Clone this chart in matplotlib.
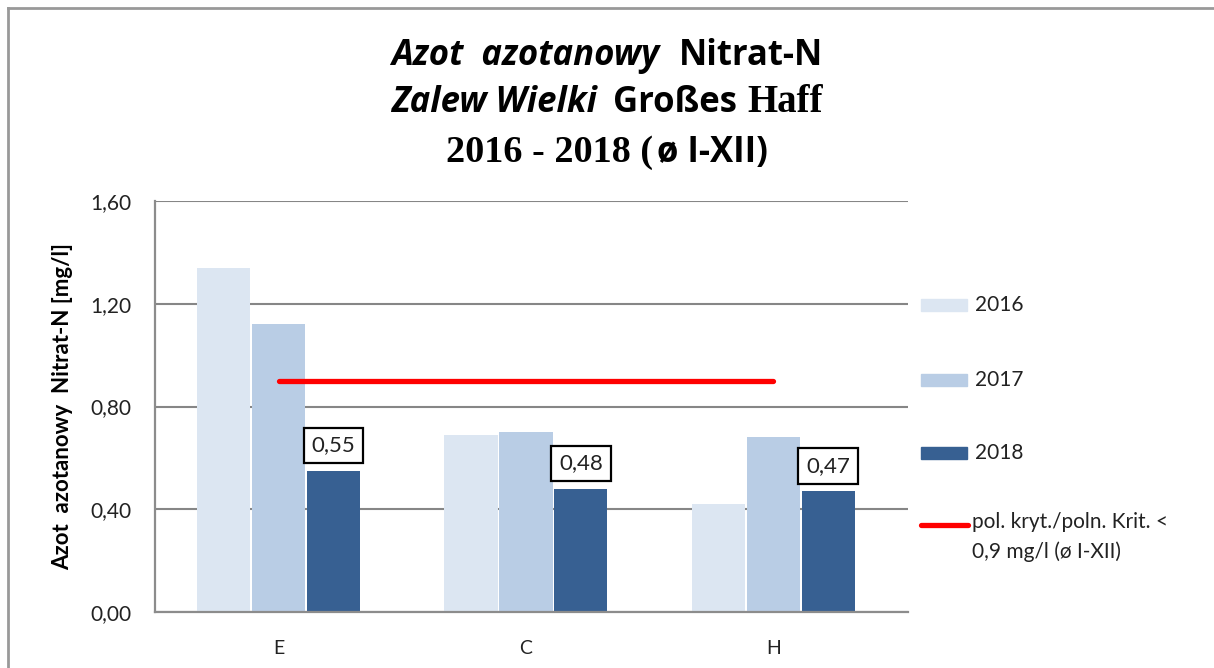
import matplotlib
matplotlib.use("Agg")
import matplotlib.pyplot as plt
from matplotlib.lines import Line2D
from matplotlib.patches import Rectangle
import numpy as np

stations = ["E", "C", "H"]
years = ["2016", "2017", "2018"]
values = {
    "2016": [1.34, 0.69, 0.42],
    "2017": [1.12, 0.70, 0.68],
    "2018": [0.55, 0.48, 0.47],
}
limit_value = 0.9
limit_label = "pol. kryt./poln. Krit. <\n0,9 mg/l (ø I-XII)"
yticks = [0.0, 0.4, 0.8, 1.2, 1.6]

colors = {"2016": "#DCE6F2", "2017": "#B9CDE5", "2018": "#376092"}
SANS = "Lato"
TSANS = "Open Sans"
SERIF = "Liberation Serif"

W, H = 1214, 668
fig = plt.figure(figsize=(W / 100, H / 100), dpi=100)
fig.patch.set_facecolor("white")

# axes box in pixel coords: x 155..908, y 201..612
ax = fig.add_axes([155 / W, 1 - 612 / H, (908 - 155) / W, (612 - 201) / H])

x = np.arange(len(stations))
step = 0.222
width = 0.215
for i, yr in enumerate(years):
    ax.bar(x + (i - 1) * step, values[yr], width, color=colors[yr], zorder=2)

ax.plot(x, [limit_value] * len(x), color="#FF0000", lw=3.8,
        solid_capstyle="round", zorder=3)

# data labels for 2018
for xi, v in zip(x, values["2018"]):
    ax.annotate(f"{v:.2f}".replace(".", ","), (xi + step, v),
                xytext=(0, 11), textcoords="offset points",
                ha="center", va="bottom", fontsize=16, family=SANS, color="#222222",
                bbox=dict(boxstyle="square,pad=0.35", fc="white", ec="black", lw=1.6),
                zorder=4)

ax.set_xlim(-0.5, 2.545)
ax.set_ylim(0, 1.6)
ax.set_yticks(yticks)
ax.set_yticklabels([f"{t:.2f}".replace(".", ",") for t in yticks],
                   fontsize=15, family=SANS, color="#222222")
ax.set_xticks(x)
ax.set_xticklabels(stations, fontsize=14, family=SANS, color="#222222")
ax.tick_params(axis="both", length=0)
ax.tick_params(axis="y", pad=17)
ax.tick_params(axis="x", pad=20)
ax.yaxis.grid(True, color="#868686", lw=1.5, zorder=0)
ax.set_axisbelow(True)
for s in ["top", "right"]:
    ax.spines[s].set_visible(False)
for s in ["left", "bottom"]:
    ax.spines[s].set_color("#8C8C8C")
    ax.spines[s].set_linewidth(1.6)

fig.text(63 / W, 1 - 407 / H, "Azot  azotanowy  Nitrat-N [mg/l]", rotation=90,
         ha="center", va="center", fontsize=16, fontweight="bold", family=SANS)

# legend drawn by hand to match spacing
leg_rows = [305, 380, 453]
for yr, yp in zip(years, leg_rows):
    fig.patches.append(Rectangle((921 / W, 1 - (yp + 6) / H), 46 / W, 12 / H,
                                 transform=fig.transFigure, color=colors[yr]))
    fig.text(975 / W, 1 - yp / H, yr, ha="left", va="center", fontsize=15,
             family=SANS, color="#222222")
fig.lines.append(Line2D([921 / W, 968 / W], [1 - 525 / H] * 2, transform=fig.transFigure,
                        color="#FF0000", lw=3.8, solid_capstyle="round"))
fig.text(972 / W, 1 - 512 / H, limit_label, ha="left", va="top", fontsize=15,
         family=SANS, color="#222222", linespacing=1.55)

# outer frame (left and top edges visible)
fig.lines.append(Line2D([8 / W, 8 / W], [0, 1 - 8 / H], transform=fig.transFigure,
                        color="#999999", lw=2))
fig.lines.append(Line2D([8 / W, 1], [1 - 8 / H, 1 - 8 / H], transform=fig.transFigure,
                        color="#999999", lw=2))

# title with mixed fonts
renderer = fig.canvas.get_renderer()


def title_line(pieces, base_px):
    texts = []
    total = 0
    for s, fam, style, size, gap in pieces:
        t = fig.text(0, 1 - base_px / H, s, family=fam, fontstyle=style,
                     fontweight="bold", fontsize=size, va="baseline", ha="left")
        w = t.get_window_extent(renderer).width
        texts.append((t, gap, w))
        total += gap + w
    xpos = (W - total) / 2
    for t, gap, w in texts:
        xpos += gap
        t.set_x(xpos / W)
        xpos += w


title_line([("Azot  azotanowy", TSANS, "italic", 25, 0),
            ("Nitrat-N", TSANS, "normal", 25, 20)], 65)
title_line([("Zalew Wielki", TSANS, "italic", 25, 0),
            ("Großes", TSANS, "normal", 25, 16),
            ("Haff", SERIF, "normal", 28, 10)], 112)
title_line([("2016 - 2018 (", SERIF, "normal", 27.5, 0),
            ("ø I-XII)", TSANS, "normal", 25, 4)], 162)

fig.savefig("out.png", dpi=100)
